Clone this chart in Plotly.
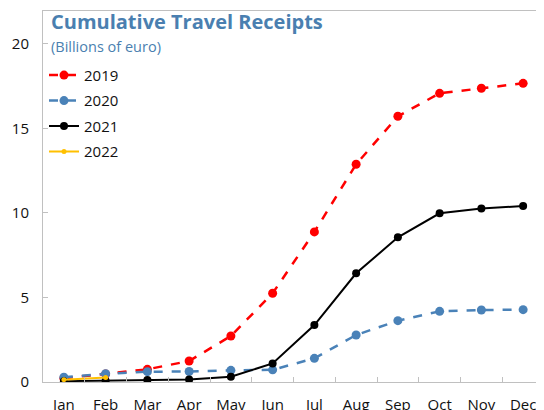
import plotly.graph_objects as go

months = ["Jan", "Feb", "Mar", "Apr", "May", "Jun", "Jul", "Aug", "Sep", "Oct", "Nov", "Dec"]
y2019 = [0.22, 0.47, 0.75, 1.24, 2.72, 5.25, 8.88, 12.88, 15.72, 17.08, 17.38, 17.67]
y2020 = [0.28, 0.49, 0.61, 0.62, 0.69, 0.72, 1.40, 2.78, 3.63, 4.18, 4.26, 4.28]
y2021 = [0.05, 0.07, 0.12, 0.15, 0.31, 1.10, 3.37, 6.43, 8.56, 9.98, 10.26, 10.41]
months2022 = ["Jan", "Feb"]
y2022 = [0.14, 0.26]
y_ticks = [0, 5, 10, 15, 20]

title_color = "#4a7fb0"
font_family = "Open Sans"

fig = go.Figure()
fig.add_trace(go.Scatter(x=months, y=y2019, name="2019", legendgroup="a", mode="lines+markers",
                         line=dict(color="#ff0000", width=2.5, dash="dash"),
                         marker=dict(size=9, color="#ff0000")))
fig.add_trace(go.Scatter(x=months, y=y2020, name="2020", legendgroup="b", mode="lines+markers",
                         line=dict(color="#4a82b8", width=2.5, dash="dash"),
                         marker=dict(size=9, color="#4a82b8")))
fig.add_trace(go.Scatter(x=months, y=y2021, name="2021", legendgroup="c", mode="lines+markers",
                         line=dict(color="#000000", width=2),
                         marker=dict(size=8, color="#000000")))
fig.add_trace(go.Scatter(x=months2022, y=y2022, name="2022", legendgroup="d", mode="lines+markers",
                         line=dict(color="#ffc000", width=2),
                         marker=dict(size=5, color="#ffc000")))

# The page body has an 8px margin, so the figure is sized to end at the window edge.
fig.update_layout(
    width=536, height=402,
    margin=dict(l=35, r=0, t=3, b=28),
    paper_bgcolor="white", plot_bgcolor="white",
    font=dict(family=font_family, size=14, color="#111111"),
    showlegend=True,
    legend=dict(x=0.002, y=0.871, xanchor="left", yanchor="top",
                font=dict(size=15), bgcolor="rgba(0,0,0,0)",
                tracegroupgap=3, itemwidth=30),
    annotations=[
        dict(text="<b>Cumulative Travel Receipts</b>", x=0.012, y=0.973, xref="paper", yref="paper",
             xanchor="left", yanchor="middle", showarrow=False,
             font=dict(size=20, color=title_color, family=font_family)),
        dict(text="(Billions of euro)", x=0.012, y=0.903, xref="paper", yref="paper",
             xanchor="left", yanchor="middle", showarrow=False,
             font=dict(size=14.5, color=title_color, family=font_family)),
    ],
)
fig.update_xaxes(type="category", categoryorder="array", categoryarray=months,
                 range=[-0.5, 11.5], showgrid=False, showline=True, linecolor="#c0c0c0",
                 linewidth=1, mirror=True, ticks="inside", ticklen=5, tickcolor="#c0c0c0",
                 tickson="boundaries", tickfont=dict(size=15), ticklabelstandoff=9,
                 automargin=False)
fig.update_yaxes(range=[0, 21.95], tickvals=y_ticks, showgrid=False, showline=True,
                 linecolor="#c0c0c0", linewidth=1, ticks="inside", ticklen=5,
                 tickcolor="#c0c0c0", zeroline=False, tickfont=dict(size=15),
                 ticklabelstandoff=10, automargin=False)

fig.write_html("out.html")
